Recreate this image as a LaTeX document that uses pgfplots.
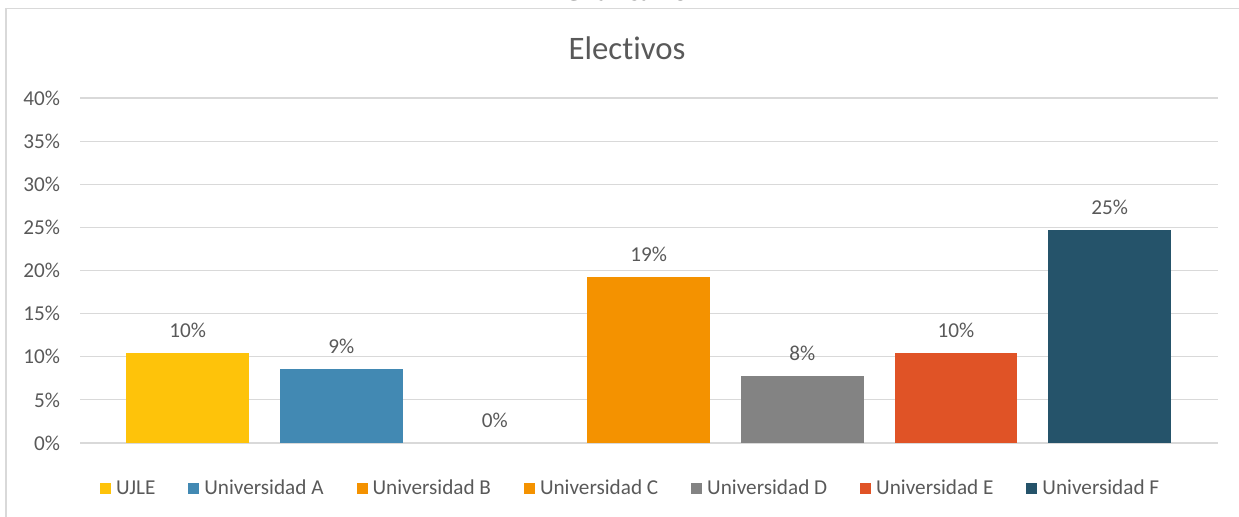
\documentclass[border=0pt]{standalone}
\usepackage{fontspec}
\setmainfont{Carlito}[Ligatures={NoCommon}]
\newfontfamily\serifb{Liberation Serif}
\usepackage{pgfplots}
\pgfplotsset{compat=1.18}
\definecolor{cUJLE}{RGB}{254,195,10}
\definecolor{cA}{RGB}{66,137,179}
\definecolor{cB}{RGB}{244,146,0}
\definecolor{cC}{RGB}{244,146,0}
\definecolor{cD}{RGB}{131,131,131}
\definecolor{cE}{RGB}{224,83,38}
\definecolor{cF}{RGB}{37,83,106}
\definecolor{textgray}{RGB}{89,89,89}
\definecolor{gridgray}{RGB}{217,217,217}
\begin{document}
\begin{tikzpicture}[x=0.5pt,y=0.5pt]
\useasboundingbox (0,0) rectangle (1239,517);
\node[font=\serifb\bfseries\fontsize{13.8}{16}\selectfont, anchor=base] at (625,516) {Gráfica 18};
\draw[color=gridgray, line width=0.75pt] (6,0) -- (6,508.5) -- (1239,508.5);
\node[text=textgray, font=\fontsize{16.4}{19}\selectfont] at (627,469) {Electivos};
\begin{axis}[
  at={(40pt,37pt)}, anchor=south west,
  scale only axis, width=569pt, height=172.5pt,
  xmin=-0.70, xmax=6.705, ymin=0, ymax=40,
  ytick={0,5,...,40}, xtick=\empty,
  yticklabel={\pgfmathprintnumber{\tick}\%},
  /pgf/number format/assume math mode=true,
  ymajorgrids, grid style={gridgray, line width=0.6pt},
  axis line style={draw=none}, major tick length=0pt,
  tick label style={font=\fontsize{10.6}{12}\selectfont, text=textgray},
  yticklabel style={xshift=-6.5pt},
  ybar, bar shift=0pt, bar width=0.8,
  nodes near coords={\pgfmathprintnumber[fixed,precision=0]{\pgfplotspointmeta}\%},
  nodes near coords style={font=\fontsize{10.6}{12}\selectfont, text=textgray, yshift=4pt},
  legend columns=7,
  legend style={at={(0.483,-0.133)}, anchor=center, draw=none, fill=none,
    font=\fontsize{10.6}{12}\selectfont, text=textgray,
    nodes={inner sep=0pt},
    /tikz/every odd column/.append style={column sep=2.5pt},
    /tikz/every even column/.append style={column sep=16.5pt}},
  legend image code/.code={\fill[#1] (0pt,-2.75pt) rectangle (5.5pt,2.75pt);},
]
\addplot[fill=cUJLE, draw=none, bar shift=0pt] coordinates {(0,10.43)};
\addlegendentry{UJLE}
\addplot[fill=cA, draw=none, bar shift=0pt] coordinates {(1,8.58)};
\addlegendentry{Universidad A}
\addplot[fill=none, draw=none, bar shift=0pt,
  legend image code/.code={\fill[cB] (0pt,-2.75pt) rectangle (5.5pt,2.75pt);}] coordinates {(2,0)};
\addlegendentry{Universidad B}
\addplot[fill=cC, draw=none, bar shift=0pt] coordinates {(3,19.25)};
\addlegendentry{Universidad C}
\addplot[fill=cD, draw=none, bar shift=0pt] coordinates {(4,7.77)};
\addlegendentry{Universidad D}
\addplot[fill=cE, draw=none, bar shift=0pt] coordinates {(5,10.45)};
\addlegendentry{Universidad E}
\addplot[fill=cF, draw=none, bar shift=0pt] coordinates {(6,24.7)};
\addlegendentry{Universidad F}
\end{axis}
\end{tikzpicture}
\end{document}
